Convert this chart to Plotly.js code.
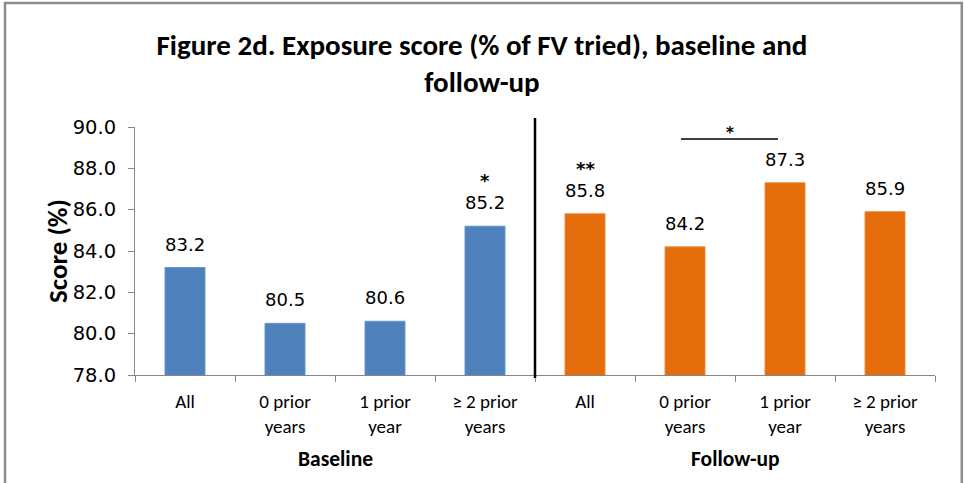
<!DOCTYPE html>
<html>
<head>
<meta charset="utf-8">
<script src="https://cdn.plot.ly/plotly-3.0.1.min.js"></script>
<style>html,body{margin:0;padding:0;background:#fff;}#chart{width:964px;height:483px;}</style>
</head>
<body>
<div id="chart"></div>
<script>
const categories = ["All", "0 prior<br>years", "1 prior<br>year", "≥ 2 prior<br>years"];
const groups = ["Baseline", "Follow-up"];
const baselineValues = [83.2, 80.5, 80.6, 85.2];
const followupValues = [85.8, 84.2, 87.3, 85.9];
const yTicks = [78, 80, 82, 84, 86, 88, 90];
const titleText = "Figure 2d. Exposure score (% of FV tried), baseline and<br>follow-up";
const yTitle = "Score (%)";

const calibri = "Carlito, Lato, 'Open Sans', sans-serif";
const verdana = "'DejaVu Sans', Verdana, sans-serif";

const xBase = baselineValues.map((_, i) => i);
const xFollow = followupValues.map((_, i) => i + baselineValues.length);
const allX = xBase.concat(xFollow);
const allVals = baselineValues.concat(followupValues);
const allCats = categories.concat(categories);

const traces = [
  {type: "bar", x: xBase, y: baselineValues, marker: {color: "#4F81BD", line: {color: "#6A95C9", width: 1}}, width: 0.4, hoverinfo: "skip", showlegend: false},
  {type: "bar", x: xFollow, y: followupValues, marker: {color: "#E46C0A", line: {color: "#F08A3A", width: 1}}, width: 0.4, hoverinfo: "skip", showlegend: false},
  {type: "scatter", x: [-0.5, 7.5], y: [78, 78], xaxis: "x2", mode: "none", hoverinfo: "skip", showlegend: false}
];

const annotations = [];
allX.forEach((x, i) => {
  annotations.push({x: x, y: allVals[i], xref: "x", yref: "y", text: allVals[i].toFixed(1), showarrow: false,
    yanchor: "bottom", yshift: 11, font: {family: verdana, size: 18, color: "#000"}});
});
groups.forEach((g, gi) => {
  annotations.push({x: gi * 4 + 1.5, y: -0.337, xref: "x", yref: "paper", text: "<b>" + g + "</b>", showarrow: false,
    yanchor: "middle", font: {family: calibri, size: 21.5, color: "#000"}});
});
// significance markers
annotations.push({x: 3, y: baselineValues[3], xref: "x", yref: "y", text: "<b>*</b>", showarrow: false, yanchor: "middle", yshift: 46, font: {family: verdana, size: 18, color: "#000"}});
annotations.push({x: 4, y: followupValues[0], xref: "x", yref: "y", text: "<b>**</b>", showarrow: false, yanchor: "middle", yshift: 45, font: {family: verdana, size: 18, color: "#000"}});
annotations.push({x: 5.45, y: 89.42, xref: "x", yref: "y", text: "<b>*</b>", showarrow: false, yanchor: "middle", yshift: 6, font: {family: verdana, size: 15, color: "#000"}});
annotations.push({x: -0.0975, y: 0.5, xref: "paper", yref: "paper", xanchor: "center", yanchor: "middle", text: "<b>" + yTitle + "</b>", textangle: -90, showarrow: false,
  font: {family: calibri, size: 27, color: "#000"}});

const layout = {
  width: 964, height: 483,
  margin: {l: 135, r: 29, t: 127, b: 108},
  paper_bgcolor: "#fff", plot_bgcolor: "#fff",
  title: {text: "<b>" + titleText + "</b>", x: 0.5, xref: "container", xanchor: "center", y: 0.887, yref: "container", yanchor: "top",
    font: {family: calibri, size: 29, color: "#000"}},
  bargap: 0.6,
  xaxis: {range: [-0.5, 7.5], tickmode: "array", tickvals: allX, ticktext: allCats, ticks: "", showgrid: false, zeroline: false,
    showline: true, linecolor: "#868686", linewidth: 1, tickfont: {family: calibri, size: 19, color: "#000"}, ticklabelstandoff: 9, fixedrange: true},
  xaxis2: {overlaying: "x", range: [-0.5, 7.5], tickmode: "array", tickvals: [-0.5,0.5,1.5,2.5,3.5,4.5,5.5,6.5,7.5], showticklabels: false,
    ticks: "outside", ticklen: 6, tickcolor: "#868686", showgrid: false, zeroline: false, showline: false, anchor: "y", side: "bottom"},
  yaxis: {range: [78, 90], tickmode: "array", tickvals: yTicks, ticktext: yTicks.map(v => v.toFixed(1)), ticks: "outside", ticklen: 6,
    tickcolor: "#868686", showgrid: false, zeroline: false, showline: true, linecolor: "#868686", linewidth: 1,
    tickfont: {family: verdana, size: 19.5, color: "#000"}, ticklabelstandoff: 8, fixedrange: true},
  shapes: [
    {type: "line", xref: "x", yref: "paper", x0: 3.5, x1: 3.5, y0: -0.012, y1: 1.036, line: {color: "#000", width: 2.5}},
    {type: "line", xref: "x", yref: "y", x0: 4.96, x1: 5.93, y0: 89.42, y1: 89.42, line: {color: "#000", width: 1.5}},
    {type: "rect", xref: "paper", yref: "paper", x0: -0.1625, x1: 1.0335, y0: -0.45, y1: 1.5, line: {color: "#8C8C8C", width: 2.5}, fillcolor: "rgba(0,0,0,0)"}
  ],
  annotations: annotations,
  showlegend: false
};

Plotly.newPlot("chart", traces, layout, {displayModeBar: false, staticPlot: true});
</script>
</body>
</html>
